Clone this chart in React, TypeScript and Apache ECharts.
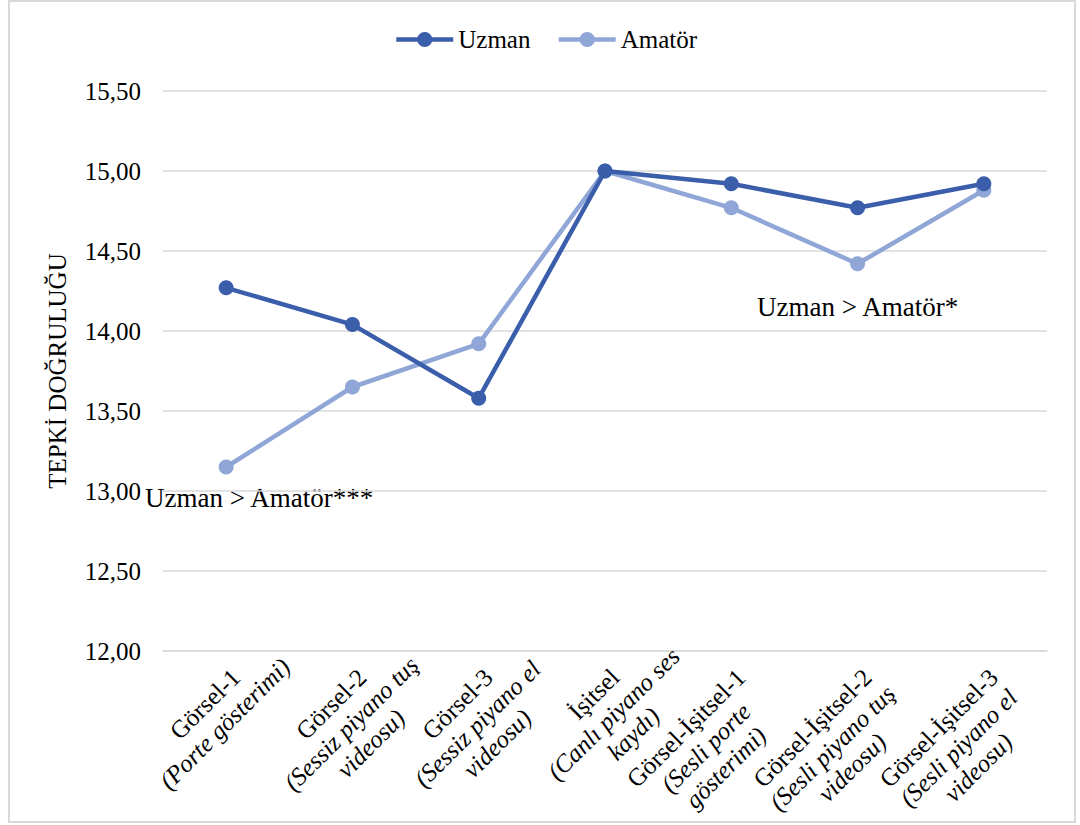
import React, { useEffect, useRef } from "react";
import * as echarts from "echarts";

const categoryFirstLines = [
  "Görsel-1",
  "Görsel-2",
  "Görsel-3",
  "İşitsel",
  "Görsel-İşitsel-1",
  "Görsel-İşitsel-2",
  "Görsel-İşitsel-3",
];
const categoryRestLines = [
  ["(Porte gösterimi)"],
  ["(Sessiz piyano tuş", "videosu)"],
  ["(Sessiz piyano el", "videosu)"],
  ["(Canlı piyano ses", "kaydı)"],
  ["(Sesli porte", "gösterimi)"],
  ["(Sesli piyano tuş", "videosu)"],
  ["(Sesli piyano el", "videosu)"],
];
const uzmanValues = [14.27, 14.04, 13.58, 15.0, 14.92, 14.77, 14.92];
const amatorValues = [13.15, 13.65, 13.92, 15.0, 14.77, 14.42, 14.88];
const seriesNames = ["Uzman", "Amatör"];
const yAxisTitle = "TEPKİ DOĞRULUĞU";
const annotation1 = "Uzman > Amatör***";
const annotation2 = "Uzman > Amatör*";

const FONT = "Liberation Serif";
const CAT_SIZE = 25;
const CAT_LH = 28;

function measure(text: string, italic: boolean): number {
  const c = document.createElement("canvas");
  const ctx = c.getContext("2d");
  if (!ctx) return text.length * CAT_SIZE * 0.5;
  ctx.font = `${italic ? "italic " : ""}${CAT_SIZE}px "${FONT}"`;
  return ctx.measureText(text).width;
}

export default function App() {
  const ref = useRef<HTMLDivElement>(null);
  useEffect(() => {
    if (!ref.current) return;
    const chart = echarts.init(ref.current, undefined, { renderer: "svg" });
    const categories = categoryFirstLines.map((f, i) => [f, ...categoryRestLines[i]].join("\n"));
    const rich: any = {};
    categoryFirstLines.forEach((f, i) => {
      const w = Math.ceil(measure(f, false));
      rich["h" + i] = { width: w, align: "center", fontFamily: FONT, fontSize: CAT_SIZE, lineHeight: CAT_LH, color: "#000" };
      rich["t" + i] = { width: w, align: "center", fontFamily: FONT, fontSize: CAT_SIZE, lineHeight: CAT_LH, fontStyle: "italic", color: "#000" };
    });
    chart.setOption({
      animation: false,
      backgroundColor: "#fff",
      textStyle: { fontFamily: FONT },
      legend: {
        top: 22,
        left: 389,
        itemWidth: 57,
        itemHeight: 19,
        itemGap: 26,
        lineStyle: { width: 4.5 },
        textStyle: { fontFamily: FONT, fontSize: 25, fontWeight: "normal", color: "#000" },
        data: seriesNames,
      },
      grid: { left: 163, right: 33, top: 91, bottom: 174, containLabel: false, outerBoundsMode: "none" },
      xAxis: {
        type: "category",
        data: categories,
        boundaryGap: true,
        axisLine: { show: true, lineStyle: { color: "#d9d9d9", width: 1.5 } },
        axisTick: { show: false },
        axisLabel: {
          interval: 0,
          rotate: 45,
          align: "right",
          verticalAlign: "top",
          margin: 12,
          hideOverlap: false,
          formatter: (v: string, idx: number) => {
            const lines = v.split("\n");
            return lines
              .map((l, j) => (j === 0 ? `{h${idx}|${l}}` : `{t${idx}|${l}}`))
              .join("\n");
          },
          rich,
        },
      },
      yAxis: {
        type: "value",
        min: 12,
        max: 15.5,
        interval: 0.5,
        name: yAxisTitle,
        nameLocation: "middle",
        nameGap: 93,
        nameTextStyle: { fontFamily: FONT, fontSize: 25, color: "#000" },
        axisLine: { show: false },
        axisTick: { show: false },
        axisLabel: {
          margin: 22,
          fontFamily: FONT,
          fontSize: 25,
          fontWeight: "normal",
          color: "#000",
          formatter: (v: number) => v.toFixed(2).replace(".", ","),
        },
        splitLine: { lineStyle: { color: "#d9d9d9", width: 1.5 } },
      },
      series: [
        {
          name: seriesNames[0],
          type: "line",
          data: uzmanValues,
          symbol: "circle",
          symbolSize: 15,
          lineStyle: { color: "#3B5EAB", width: 4.5 },
          itemStyle: { color: "#3B5EAB" },
          z: 3,
        },
        {
          name: seriesNames[1],
          type: "line",
          data: amatorValues,
          symbol: "circle",
          symbolSize: 15,
          lineStyle: { color: "#8FA6D7", width: 4.5 },
          itemStyle: { color: "#8FA6D7" },
          z: 2,
        },
      ],
      graphic: [
        {
          type: "rect",
          shape: { x: 9, y: 1, width: 1066, height: 821 },
          style: { fill: "none", stroke: "#d9d9d9", lineWidth: 2 },
          z: -10,
          silent: true,
        },
        {
          type: "text",
          x: 145,
          y: 498,
          style: { text: annotation1, fontFamily: FONT, fontSize: 27, fill: "#000", textVerticalAlign: "middle" },
        },
        {
          type: "text",
          x: 757,
          y: 307,
          style: { text: annotation2, fontFamily: FONT, fontSize: 27, fill: "#000", textVerticalAlign: "middle" },
        },
      ],
    });
    return () => chart.dispose();
  }, []);
  return (
    <div
      ref={ref}
      style={{ position: "absolute", left: 0, top: 0, width: 1080, height: 825 }}
    />
  );
}
